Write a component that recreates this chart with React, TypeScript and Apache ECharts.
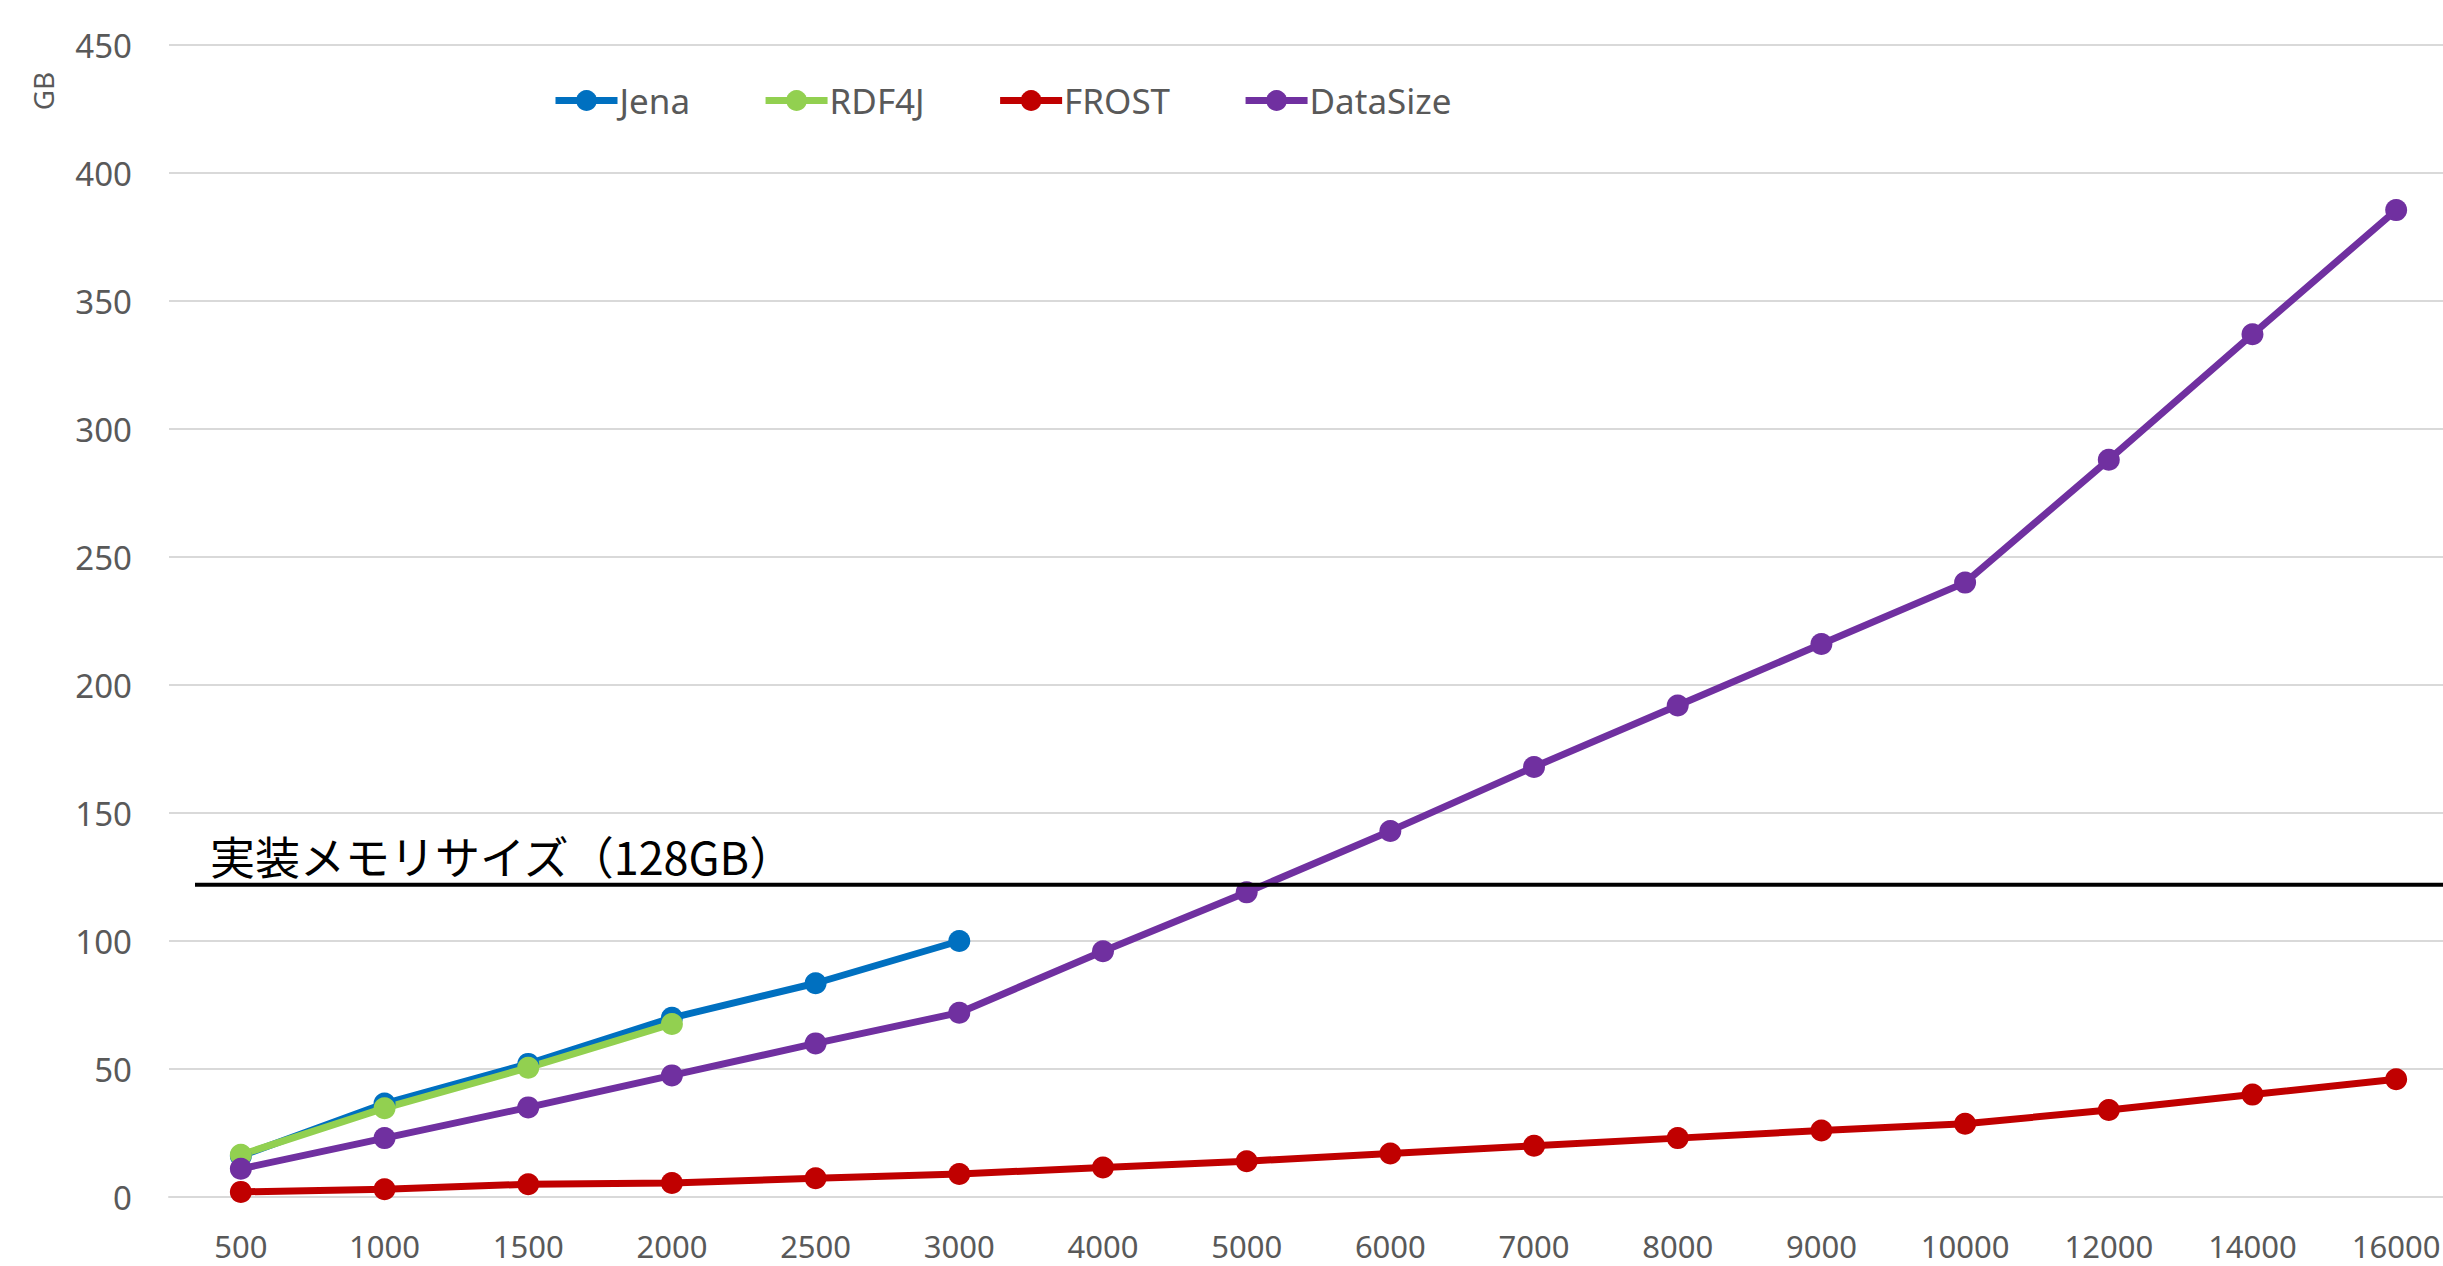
import React, { useEffect, useRef } from "react";
import * as echarts from "echarts";

const categories = ["500", "1000", "1500", "2000", "2500", "3000", "4000", "5000", "6000", "7000", "8000", "9000", "10000", "12000", "14000", "16000"];
const jena = [16, 36.5, 52, 70, 83.5, 100, null, null, null, null, null, null, null, null, null, null];
const rdf4j = [16.5, 34.7, 50.5, 67.6, null, null, null, null, null, null, null, null, null, null, null, null];
const frost = [2, 3, 5, 5.5, 7.3, 9, 11.5, 14, 17, 20, 23, 26, 28.6, 34, 40, 46];
const dataSize = [11, 23, 35, 47.5, 60, 72, 96, 119, 143, 168, 192, 216, 240, 288, 337, 385.5];
const yMin = 0;
const yMax = 450;
const yInterval = 50;
const memoryLine = 122;
const memoryLabel = "実装メモリサイズ（128GB）";
const yAxisName = "GB";

const seriesNames = ["Jena", "RDF4J", "FROST", "DataSize"];
const seriesColors = ["#0070C0", "#92D050", "#C00000", "#7030A0"];
const seriesData = [jena, rdf4j, frost, dataSize];

const FONT = "'Noto Sans', sans-serif";

export default function App() {
  const ref = useRef<HTMLDivElement>(null);
  useEffect(() => {
    if (!ref.current) return;
    const chart = echarts.init(ref.current, undefined, { renderer: "svg" });
    chart.setOption({
      animation: false,
      backgroundColor: "#ffffff",
      grid: {
        left: 169,
        width: 2299,
        top: 45,
        bottom: 69,
        containLabel: false,
        outerBoundsMode: "none",
      },
      legend: {
        data: seriesNames,
        left: 547,
        top: 78,
        itemWidth: 62,
        itemHeight: 26,
        itemGap: 72,
        lineStyle: { width: 7 },
        textStyle: { fontFamily: FONT, fontSize: 35, color: "#595959", padding: [0, 0, 0, -3] },
      },
      xAxis: {
        type: "category",
        data: categories,
        boundaryGap: true,
        axisLine: { lineStyle: { color: "#d9d9d9", width: 2 } },
        axisTick: { show: false },
        axisLabel: {
          fontFamily: FONT,
          fontSize: 31,
          lineHeight: 31,
          color: "#595959",
          margin: 33,
          interval: 0,
        },
      },
      yAxis: {
        type: "value",
        min: yMin,
        max: yMax,
        interval: yInterval,
        axisLine: { show: false },
        axisTick: { show: false },
        splitLine: { lineStyle: { color: "#d9d9d9", width: 2 } },
        axisLabel: { fontFamily: FONT, fontSize: 33, color: "#595959", margin: 37 },
      },
      series: seriesNames.map((name, i) => ({
        name,
        type: "line",
        data: seriesData[i],
        color: seriesColors[i],
        symbol: "circle",
        symbolSize: 22,
        lineStyle: { width: 7, color: seriesColors[i] },
        itemStyle: { color: seriesColors[i] },
        connectNulls: false,
      })),
    });
    const yPix = chart.convertToPixel({ yAxisIndex: 0 }, memoryLine) as number;
    chart.setOption({
      graphic: [
        {
          type: "line",
          shape: { x1: 195, y1: yPix, x2: 2443, y2: yPix },
          style: { stroke: "#000000", lineWidth: 4 },
          z: 100,
        },
        {
          type: "text",
          x: 210,
          y: yPix - 7,
          style: {
            text: memoryLabel,
            fontFamily: "'Noto Sans CJK JP', sans-serif",
            fontSize: 45,
            fill: "#000000",
            verticalAlign: "bottom",
          },
          z: 100,
        },
        {
          type: "text",
          x: 43,
          y: 91,
          rotation: Math.PI / 2,
          style: {
            text: yAxisName,
            fontFamily: FONT,
            fontSize: 28,
            fill: "#595959",
            align: "center",
            verticalAlign: "middle",
          },
        },
      ],
    });
    return () => chart.dispose();
  }, []);
  return (
    <div
      ref={ref}
      style={{ position: "absolute", left: 0, top: 0, width: 2443, height: 1266, overflow: "hidden" }}
    />
  );
}
